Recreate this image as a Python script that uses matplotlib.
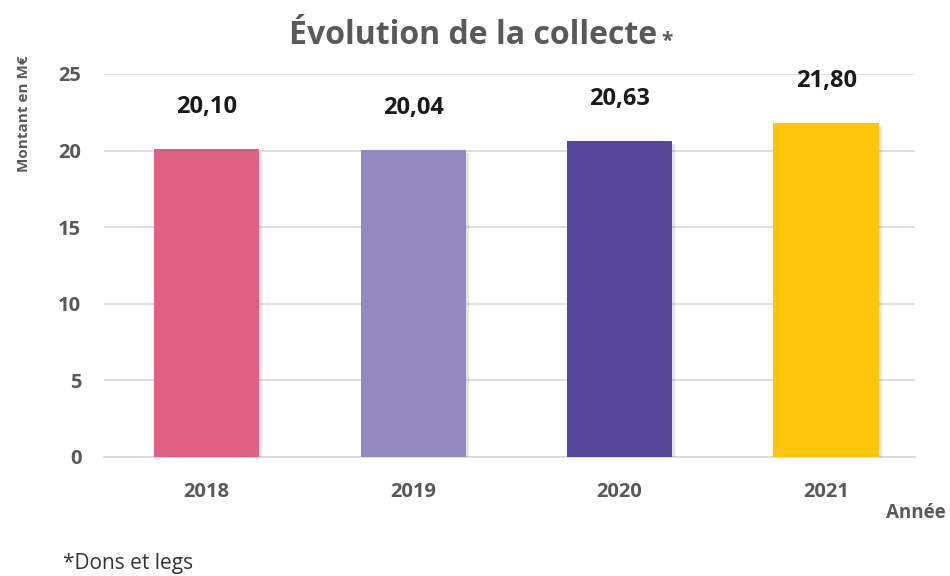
import matplotlib.pyplot as plt
import matplotlib.patheffects as pe

# ── Data ────────────────────────────────────────────────────────────────────
years = ["2018", "2019", "2020", "2021"]
amounts = [20.10, 20.04, 20.63, 21.80]
bar_colors = ["#E06085", "#9488C0", "#55469A", "#FFC60B"]

plt.rcParams["font.family"] = ["Open Sans", "DejaVu Sans"]
grey = "#595959"

# ── Plot ────────────────────────────────────────────────────────────────────
fig = plt.figure(figsize=(9.5, 5.76), dpi=100)
ax = fig.add_axes([0.109, 0.2066, 0.854, 0.665])

x = range(len(years))
bars = ax.bar(x, amounts, width=0.51, color=bar_colors, zorder=3)
for b in bars:
    b.set_path_effects([pe.SimplePatchShadow(offset=(2, -2), alpha=0.12),
                        pe.Normal()])

for i, v in enumerate(amounts):
    label = f"{v:.2f}".replace(".", ",")
    ax.annotate(label, (i, v), xytext=(0, 30), textcoords="offset points",
                ha="center", va="center", fontsize=17, fontweight="bold",
                color="#1a1a1a")

ax.set_ylim(0, 25)
ax.set_xlim(-0.5, 3.43)
ax.set_yticks([0, 5, 10, 15, 20, 25])
ax.set_xticks(list(x))
ax.set_xticklabels(years)

ax.grid(axis="y", color="#D9D9D9", linewidth=1.2, zorder=0)
for s in ["top", "right", "left"]:
    ax.spines[s].set_visible(False)
ax.spines["bottom"].set_color("#D9D9D9")
ax.spines["bottom"].set_linewidth(1.2)
ax.tick_params(axis="both", length=0, labelsize=14.5, labelcolor=grey)
ax.tick_params(axis="y", pad=16)
ax.tick_params(axis="x", pad=18)
for t in ax.get_xticklabels() + ax.get_yticklabels():
    t.set_fontweight("bold")

title = fig.text(0.498, 0.939, "Évolution de la collecte", ha="center",
                 va="center", fontsize=23, fontweight="bold", color=grey)
ax.annotate("*", xy=(1, 0.3), xycoords=title, xytext=(3, 0),
            textcoords="offset points", ha="left", va="center",
            fontsize=15, fontweight="bold", color=grey)
fig.text(0.025, 0.802, "Montant en M€", rotation=90, ha="center", va="center",
         fontsize=11, fontweight="bold", color=grey)
fig.text(0.995, 0.109, "Année", ha="right", va="center",
         fontsize=13.5, fontweight="bold", color=grey)
fig.text(0.066, 0.003, "*Dons et legs", ha="left", va="bottom",
         fontsize=15, color="#333333")

fig.savefig("out.png", dpi=100)
